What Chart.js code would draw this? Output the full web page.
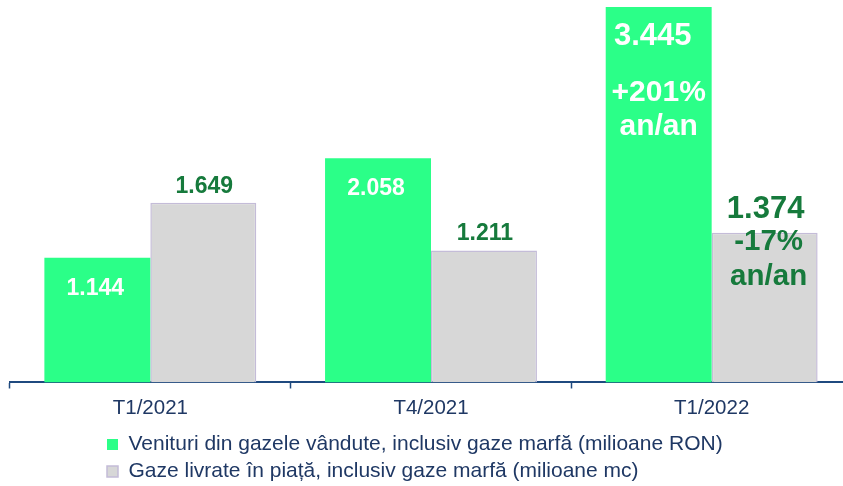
<!DOCTYPE html>
<html>
<head>
<meta charset="utf-8">
<script src="https://cdn.jsdelivr.net/npm/chart.js@4"></script>
<style>
  html, body { margin: 0; padding: 0; background: #fff; overflow: hidden; }
  #wrap { width: 843px; height: 486px; overflow: hidden; }
</style>
</head>
<body>
<div id="wrap"><canvas id="c" width="860" height="486"></canvas></div>
<script>
// date
const periods = ["T1/2021", "T4/2021", "T1/2022"];
const revenue = [1144, 2058, 3445];
const gasDelivered = [1649, 1211, 1374];
const revenueChange = [null, null, "+201%"];
const gasChange = [null, null, "-17%"];
const changeSuffix = "an/an";
const seriesNames = [
  "Venituri din gazele vândute, inclusiv gaze marfă (milioane RON)",
  "Gaze livrate în piață, inclusiv gaze marfă (milioane mc)"
];

const FONT = '"Liberation Sans", Arial, sans-serif';
const NAVY = "#1f3864";

function fmt(v) {
  return (v / 1000).toFixed(3);
}

// etichete pe bare (valoare + variatie an/an)
const barLabels = {
  id: "barLabels",
  afterDatasetsDraw(chart) {
    const ctx = chart.ctx;
    ctx.save();
    ctx.textAlign = "center";
    ctx.textBaseline = "alphabetic";
    chart.data.datasets.forEach((ds, i) => {
      const meta = chart.getDatasetMeta(i);
      meta.data.forEach((bar, j) => {
        const note = ds.notes[j];
        const big = note != null;
        ctx.fillStyle = ds.labelColor;
        ctx.font = "bold " + (big ? 31 : 23) + "px " + FONT;
        let y;
        if (ds.labelInside) {
          y = bar.y + (big ? 38 : 37);
          ctx.fillText(fmt(ds.data[j]), bar.x - (big ? 6 : 2), y);
          if (big) {
            ctx.font = "bold 30px " + FONT;
            ctx.fillText(note, bar.x, y + 56);
            ctx.fillText(changeSuffix, bar.x, y + 90);
          }
        } else {
          y = bar.y - (big ? 15 : 10);
          ctx.fillText(fmt(ds.data[j]), bar.x + 1, y);
          if (big) {
            ctx.font = "bold 29.5px " + FONT;
            ctx.fillText(note, bar.x + 4, y + 32);
            ctx.fillText(changeSuffix, bar.x + 4, y + 67);
          }
        }
      });
    });
    ctx.restore();
  }
};

// legenda aliniata la stanga, mutata spre centru
const legendShift = {
  id: "legendShift",
  afterLayout(chart) {
    chart.legend.left = 101;
  }
};

new Chart(document.getElementById("c"), {
  type: "bar",
  data: {
    labels: periods,
    datasets: [
      {
        label: seriesNames[0],
        data: revenue,
        backgroundColor: "#2bff88",
        borderWidth: 0,
        notes: revenueChange,
        labelColor: "#ffffff",
        labelInside: true
      },
      {
        label: seriesNames[1],
        data: gasDelivered,
        backgroundColor: "#d7d7d7",
        borderColor: "#c4bcd8",
        borderWidth: 1.5,
        notes: gasChange,
        labelColor: "#167a3c",
        labelInside: false
      }
    ]
  },
  options: {
    responsive: false,
    animation: false,
    layout: { padding: { left: 10, right: 8, top: 7, bottom: -6 } },
    datasets: { bar: { categoryPercentage: 0.755, barPercentage: 1 } },
    scales: {
      x: {
        grid: { drawOnChartArea: false, color: "#1f4a7f", tickLength: 6, tickWidth: 1.5 },
        border: { color: "#1f4a7f", width: 2 },
        ticks: { color: NAVY, font: { family: FONT, size: 20.5, lineHeight: 1.05 }, padding: 9 }
      },
      y: { display: false, min: 0, max: 3445 }
    },
    plugins: {
      legend: {
        position: "bottom",
        align: "start",
        labels: {
          boxWidth: 11,
          boxHeight: 11,
          color: NAVY,
          font: { family: FONT, size: 21 },
          padding: 6
        }
      },
      tooltip: { enabled: false }
    }
  },
  plugins: [barLabels, legendShift]
});
</script>
</body>
</html>
